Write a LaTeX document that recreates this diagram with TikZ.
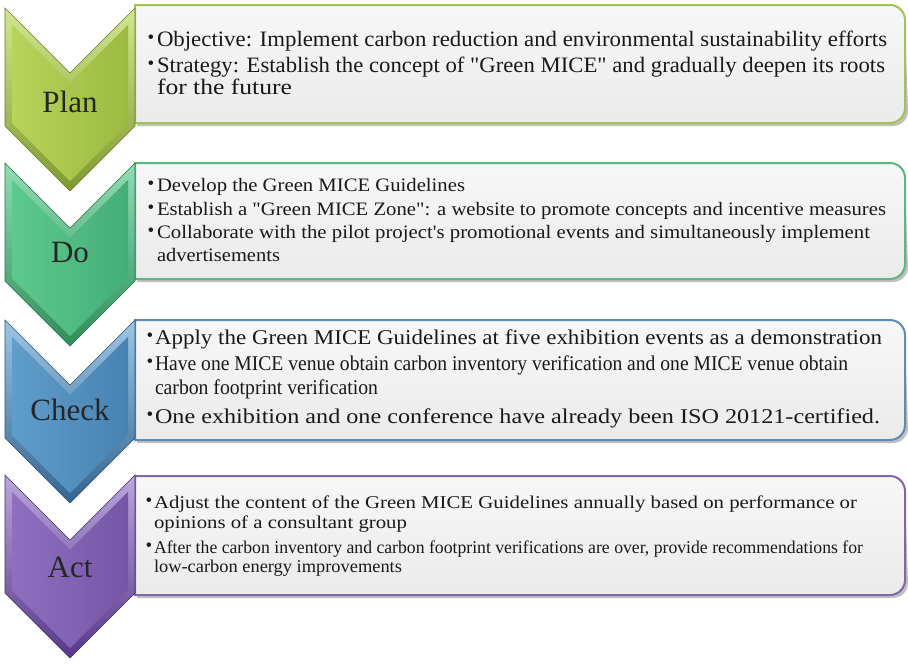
\documentclass[tikz,border=0pt]{standalone}
\usepackage{fontspec}
\setmainfont{Liberation Serif}
\usepackage{graphicx}
\usetikzlibrary{calc}
\definecolor{pLight}{HTML}{D3E68E}\definecolor{pDark}{HTML}{7E9A30}\definecolor{pMainA}{HTML}{B8D35A}\definecolor{pMainB}{HTML}{9CBA40}\definecolor{pLine}{HTML}{A2C257}
\definecolor{dLight}{HTML}{90DDB2}\definecolor{dDark}{HTML}{2F8E5A}\definecolor{dMainA}{HTML}{5EC98E}\definecolor{dMainB}{HTML}{44AE77}\definecolor{dLine}{HTML}{5DB582}
\definecolor{cLight}{HTML}{9CC6E4}\definecolor{cDark}{HTML}{33658F}\definecolor{cMainA}{HTML}{5F9DCB}\definecolor{cMainB}{HTML}{4882B0}\definecolor{cLine}{HTML}{5A8CB8}
\definecolor{aLight}{HTML}{BBA6DC}\definecolor{aDark}{HTML}{57388A}\definecolor{aMainA}{HTML}{8F70C0}\definecolor{aMainB}{HTML}{7556A6}\definecolor{aLine}{HTML}{8565AA}
\tikzset{
  txt/.style={anchor=base west, inner sep=0pt, outer sep=0pt, text=black!90},
  bul/.style={anchor=center, inner sep=0pt, outer sep=0pt, text=black!90, font=\fontsize{19}{19}\selectfont},
  lab/.style={anchor=base, inner sep=0pt, text=black!85, font=\fontsize{31}{31}\selectfont},
}
% box: #1 top, #2 bottom, #3 line colour
\newcommand{\mybox}[3]{%
  \fill[black!45, opacity=0.55] (137,#1+3) -- (890,#1+3) arc(-90:0:15) -- (908,#2-12) arc(0:90:15) -- (137,#2+3) -- cycle;
  \draw[#3, line width=2pt, top color=white!97!black, bottom color=white!92!black]
    (135,#1) -- (890,#1) arc(-90:0:15) -- (905,#2-15) arc(0:90:15) -- (135,#2) -- cycle;
}
% chevron: #1 top, #2 light, #3 dark, #4 mainA, #5 mainB
\newcommand{\mychev}[5]{%
  \shade[top color=#2, bottom color=#3, draw=#3!80!black, line width=0.6pt]
    (5,#1) -- (70,#1+65) -- (135,#1) -- (135,#1+118) -- (70,#1+183) -- (5,#1+118) -- cycle;
  \shade[left color=#4, right color=#5]
    (12,#1+16.9) -- (70,#1+74.9) -- (128,#1+16.9) -- (128,#1+115.1) -- (70,#1+173.1) -- (12,#1+115.1) -- cycle;
}
\newcommand{\rl}[5]{% name, x, y, width, text
  \node[txt] (#1) at (#2,#3) {\resizebox{#4pt}{\height}{#5}};
}
\newcommand{\qq}{\textquotedbl}
\begin{document}
\begin{tikzpicture}[x=1pt,y=-1pt]
\useasboundingbox[fill=white] (0,0) rectangle (908,664);
% boxes
\mybox{5}{123}{pLine}
\mybox{163}{279}{dLine}
\mybox{320}{440}{cLine}
\mybox{476}{595}{aLine}
% chevrons
\mychev{8}{pLight}{pDark}{pMainA}{pMainB}
\mychev{163}{dLight}{dDark}{dMainA}{dMainB}
\mychev{320}{cLight}{cDark}{cMainA}{cMainB}
\mychev{475}{aLight}{aDark}{aMainA}{aMainB}
% labels
\node[lab] (plan) at (70,112) {Plan};
\node[lab] (do) at (70,262) {Do};
\node[lab] (check) at (70,420) {Check};
\node[lab] (act) at (70,577) {Act};
% Plan text
\begin{scope}[every node/.append style={font=\fontsize{22}{26}\selectfont}]
\node[bul] (pb1) at (151,39.5) {•};
\rl{p1}{157}{46}{730}{Objective: Implement carbon reduction and environmental sustainability efforts}
\node[bul] (pb2) at (151,65.5) {•};
\rl{p2}{157}{72}{728}{Strategy: Establish the concept of \qq Green MICE\qq{} and gradually deepen its roots}
\rl{p3}{157}{94}{135}{for the future}
\end{scope}
% Do text
\begin{scope}[every node/.append style={font=\fontsize{19}{22}\selectfont}]
\node[bul] (db1) at (151,185) {•};
\rl{d1}{157}{191}{308}{Develop the Green MICE Guidelines}
\node[bul] (db2) at (151,209) {•};
\rl{d2}{157}{215}{729}{Establish a \qq Green MICE Zone\qq: a website to promote concepts and incentive measures}
\node[bul] (db3) at (151,232) {•};
\rl{d3}{157}{238}{713}{Collaborate with the pilot project\textquotesingle s promotional events and simultaneously implement}
\rl{d4}{157}{261}{123}{advertisements}
\end{scope}
% Check text
\begin{scope}[every node/.append style={font=\fontsize{21}{24}\selectfont}]
\node[bul] (cb1) at (150,337.5) {•};
\rl{c1}{155}{344}{727}{Apply the Green MICE Guidelines at five exhibition events as a demonstration}
\node[bul] (cb2) at (150,363.5) {•};
\rl{c2}{155}{370}{693}{Have one MICE venue obtain carbon inventory verification and one MICE venue obtain}
\rl{c3}{155}{394}{223}{carbon footprint verification}
\node[bul] (cb4) at (150,416.5) {•};
\rl{c4}{155}{423}{725}{One exhibition and one conference have already been ISO 20121-certified.}
\end{scope}
% Act text
\begin{scope}[every node/.append style={font=\fontsize{18}{21}\selectfont}]
\node[bul] (ab1) at (149,502.5) {•};
\rl{a1}{154}{508}{703}{Adjust the content of the Green MICE Guidelines annually based on performance or}
\rl{a2}{154}{528}{253}{opinions of a consultant group}
\node[bul] (ab3) at (149,547.5) {•};
\rl{a3}{154}{553}{709}{After the carbon inventory and carbon footprint verifications are over, provide recommendations for}
\rl{a4}{154}{572}{248}{low-carbon energy improvements}
\end{scope}
\end{tikzpicture}
\end{document}
